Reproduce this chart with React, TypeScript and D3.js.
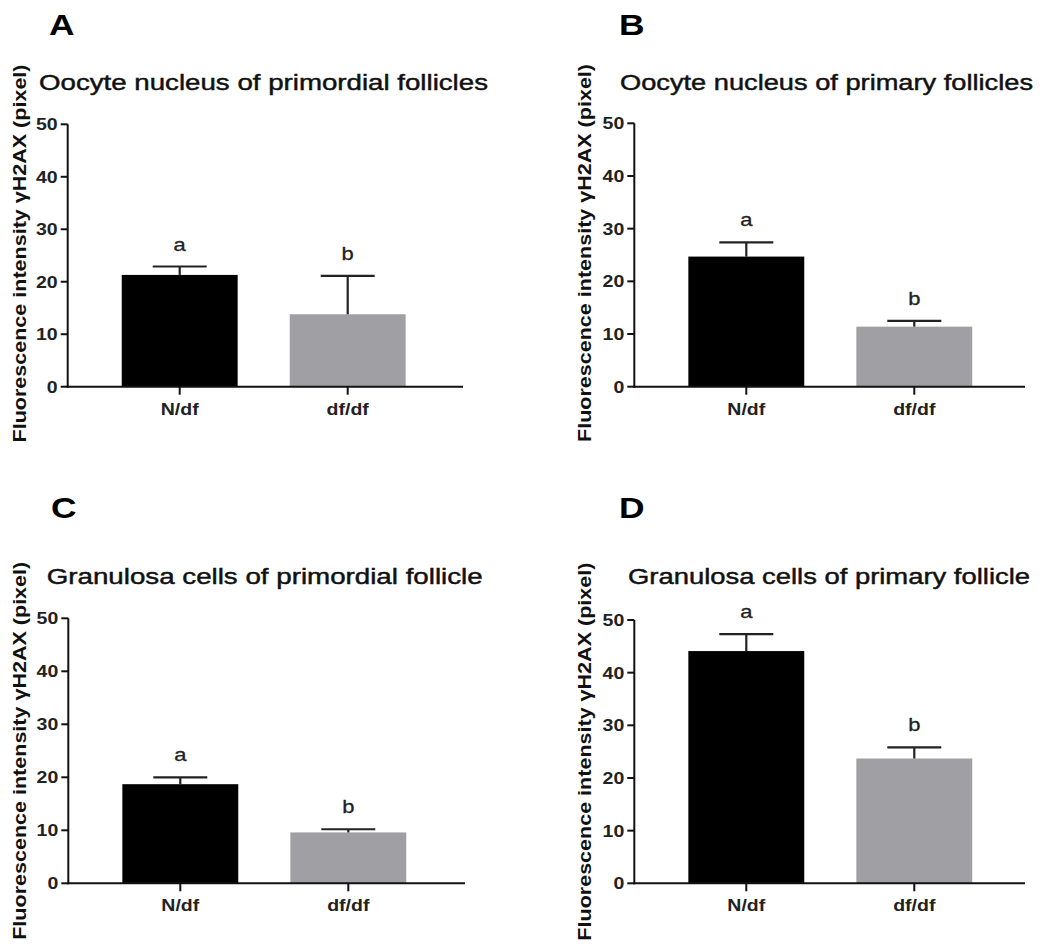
import React from "react";
import * as d3 from "d3";

// ---- data ----
const categories = ["N/df", "df/df"];
const panelLetters = ["A", "B", "C", "D"];
const panelTitles = [
  "Oocyte nucleus of primordial follicles",
  "Oocyte nucleus of primary follicles",
  "Granulosa cells of primordial follicle",
  "Granulosa cells of primary follicle",
];
const meanA = [21.3, 13.8];
const errA = [1.6, 7.3];
const meanB = [24.7, 11.4];
const errB = [2.7, 1.1];
const meanC = [18.7, 9.6];
const errC = [1.3, 0.6];
const meanD = [44.1, 23.7];
const errD = [3.2, 2.1];
const sigLetters = ["a", "b"];
const yTicks = [0, 10, 20, 30, 40, 50];
const yLabel = "Fluorescence intensity \u03b3H2AX (pixel)";

const means = [meanA, meanB, meanC, meanD];
const errs = [errA, errB, errC, errD];

// ---- layout (positions only) ----
const layout = [
  { ax: 67.7, top: 124.3, bottom: 386.7, right: 463, lx: 49, ly: 35, tx: 39, ty: 90, tl: 449, yl: 26 },
  { ax: 634.3, top: 123.3, bottom: 386.7, right: 1025, lx: 619, ly: 35, tx: 620, ty: 90, tl: 413, yl: 590.5 },
  { ax: 68.3, top: 618.3, bottom: 883.3, right: 465, lx: 51, ly: 518, tx: 46.7, ty: 584, tl: 436, yl: 26 },
  { ax: 634.3, top: 620, bottom: 883.3, right: 1025, lx: 619, ly: 518, tx: 628, ty: 584, tl: 402, yl: 590.5 },
];

const FONT = "'Liberation Sans', Arial, Helvetica, sans-serif";
const SX = 1.22;
const barColors = ["#000000", "#a0a0a4"];

function Panel({ i }: { i: number }) {
  const L = layout[i];
  const y = d3.scaleLinear().domain([0, 50]).range([L.bottom, L.top]);
  const x = d3
    .scaleBand<string>()
    .domain(categories)
    .range([L.ax + 28, L.ax + 364])
    .paddingInner(0.31)
    .paddingOuter(0.155);
  const bw = x.bandwidth();
  const capHalf = 27;
  return (
    <g>
      <text
        transform={`translate(${L.lx},${L.ly}) scale(${SX},1)`}
        fontFamily={FONT}
        fontWeight="bold"
        fontSize={29}
        fill="#000"
      >
        {panelLetters[i]}
      </text>
      <text
        x={L.tx}
        y={L.ty}
        fontFamily={FONT}
        fontSize={22}
        fill="#111"
        stroke="#111"
        strokeWidth={0.45}
        textLength={L.tl}
        lengthAdjust="spacingAndGlyphs"
      >
        {panelTitles[i]}
      </text>
      <text
        transform={`translate(${L.yl},${(L.top + L.bottom) / 2 + (i < 2 ? -2 : 0)}) scale(${SX},1) rotate(-90)`}
        textAnchor="middle"
        fontFamily={FONT}
        fontWeight="bold"
        fontSize={15.5}
        fill="#111"
        textLength={378}
        lengthAdjust="spacingAndGlyphs"
      >
        {yLabel}
      </text>
      {/* bars */}
      {categories.map((c, j) => (
        <rect
          key={c}
          x={x(c)!}
          y={y(means[i][j])}
          width={bw}
          height={y(0) - y(means[i][j])}
          fill={barColors[j]}
        />
      ))}
      {/* error bars */}
      {categories.map((c, j) => {
        const cx = x(c)! + bw / 2;
        const t = y(means[i][j] + errs[i][j]);
        return (
          <g key={c} stroke="#222" strokeWidth={2.2}>
            <line x1={cx} x2={cx} y1={y(means[i][j])} y2={t} />
            <line x1={cx - capHalf} x2={cx + capHalf} y1={t} y2={t} />
          </g>
        );
      })}
      {/* significance letters */}
      {categories.map((c, j) => {
        const cx = x(c)! + bw / 2;
        const t = y(means[i][j] + errs[i][j]);
        return (
          <text
            key={c}
            transform={`translate(${cx},${t - 16}) scale(${SX},1)`}
            textAnchor="middle"
            fontFamily={FONT}
            fontSize={18}
            fill="#222"
            stroke="#222"
            strokeWidth={0.3}
          >
            {sigLetters[j]}
          </text>
        );
      })}
      {/* y axis */}
      <line x1={L.ax} x2={L.ax} y1={y(50)} y2={y(0) + 1} stroke="#111" strokeWidth={2} />
      {yTicks.map((v) => (
        <g key={v}>
          <line x1={L.ax - 7} x2={L.ax} y1={y(v)} y2={y(v)} stroke="#111" strokeWidth={2} />
          <text
            transform={`translate(${L.ax - 10},${y(v) + 6}) scale(${SX},1)`}
            textAnchor="end"
            fontFamily={FONT}
            fontWeight="bold"
            fontSize={16}
            fill="#222"
          >
            {v}
          </text>
        </g>
      ))}
      {/* x axis */}
      <line x1={L.ax - 1} x2={L.right} y1={y(0)} y2={y(0)} stroke="#111" strokeWidth={2} />
      {categories.map((c) => {
        const cx = x(c)! + bw / 2;
        return (
          <g key={c}>
            <line x1={cx} x2={cx} y1={y(0)} y2={y(0) + 8} stroke="#111" strokeWidth={2} />
            <text
              transform={`translate(${cx},${y(0) + 28}) scale(${SX},1)`}
              textAnchor="middle"
              fontFamily={FONT}
              fontWeight="bold"
              fontSize={16}
              fill="#222"
            >
              {c}
            </text>
          </g>
        );
      })}
    </g>
  );
}

export default function App() {
  return (
    <svg
      width={1050}
      height={947}
      style={{ position: "absolute", left: 0, top: 0, background: "#fff" }}
    >
      <rect x={0} y={0} width={1050} height={947} fill="#fff" />
      {[0, 1, 2, 3].map((i) => (
        <Panel key={i} i={i} />
      ))}
    </svg>
  );
}
